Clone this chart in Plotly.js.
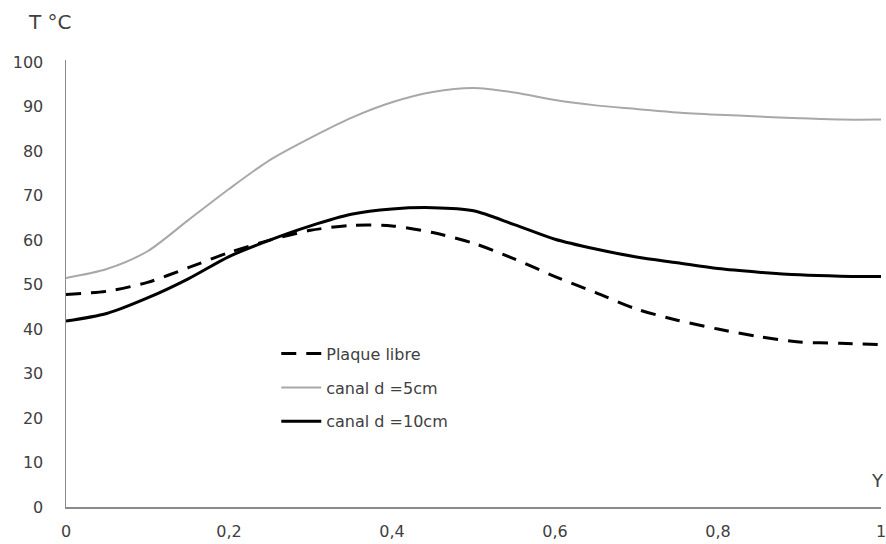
<!DOCTYPE html>
<html>
<head>
<meta charset="utf-8">
<script src="https://cdn.plot.ly/plotly-3.0.1.min.js"></script>
<style>
  html, body { margin: 0; padding: 0; background: #ffffff; }
  #chart { width: 886px; height: 544px; }
</style>
</head>
<body>
<div id="chart"></div>
<script>
// Position along the plate (Y) and temperature profiles (°C)
const positions = [0, 0.05, 0.1, 0.15, 0.2, 0.25, 0.3, 0.35, 0.4, 0.45, 0.5,
                   0.55, 0.6, 0.65, 0.7, 0.75, 0.8, 0.85, 0.9, 0.95, 1.0];

const plaqueLibre = [47.8, 48.5, 50.5, 53.8, 57.2, 60.0, 62.2, 63.3, 63.2, 61.7, 59.3,
                     55.8, 51.8, 48.2, 44.5, 42.0, 40.0, 38.3, 37.1, 36.8, 36.5];

const canal5cm = [51.5, 53.5, 57.5, 64.5, 71.5, 78.0, 83.0, 87.5, 91.0, 93.3, 94.2,
                  93.2, 91.5, 90.3, 89.5, 88.7, 88.2, 87.8, 87.4, 87.1, 87.1];

const canal10cm = [41.8, 43.5, 47.0, 51.3, 56.3, 60.0, 63.2, 65.8, 67.0, 67.3, 66.6,
                   63.5, 60.2, 58.0, 56.2, 54.9, 53.6, 52.8, 52.2, 51.9, 51.8];

const seriesNames = ['Plaque libre', 'canal d =5cm', 'canal d =10cm'];
const xTicks = [0, 0.2, 0.4, 0.6, 0.8, 1];
const yTicks = [0, 10, 20, 30, 40, 50, 60, 70, 80, 90, 100];

const font = 'DejaVu Sans, sans-serif';
const textColor = '#404040';

const traces = [
  { x: positions, y: plaqueLibre, name: seriesNames[0], legendgroup: 'a', mode: 'lines',
    line: { color: '#000000', width: 3, dash: '15px,10px', shape: 'spline', smoothing: 0.8 } },
  { x: positions, y: canal5cm, name: seriesNames[1], legendgroup: 'b', mode: 'lines',
    line: { color: '#a8a8a8', width: 2, shape: 'spline', smoothing: 0.8 } },
  { x: positions, y: canal10cm, name: seriesNames[2], legendgroup: 'c', mode: 'lines',
    line: { color: '#000000', width: 3, shape: 'spline', smoothing: 0.8 } }
];

const layout = {
  width: 886, height: 544,
  margin: { l: 66, r: 5, t: 60, b: 37 },
  paper_bgcolor: '#ffffff', plot_bgcolor: '#ffffff',
  font: { family: font, size: 16, color: textColor },
  separators: ',.',
  showlegend: true,
  legend: {
    x: 0.258, y: 0.381, xanchor: 'left', yanchor: 'top',
    bgcolor: 'rgba(0,0,0,0)', borderwidth: 0,
    font: { family: font, size: 16, color: textColor },
    traceorder: 'grouped', tracegroupgap: 10, itemwidth: 40
  },
  xaxis: {
    range: [0, 1], tickvals: xTicks, tickformat: '.1~f',
    showgrid: false, zeroline: false,
    showline: true, linecolor: '#8a8a8a', linewidth: 1.5,
    ticks: '', ticklabelstandoff: 9, ticklabeloverflow: 'allow',
    tickfont: { family: font, size: 16, color: textColor },
    fixedrange: true
  },
  yaxis: {
    range: [0, 100.5], tickvals: yTicks,
    showgrid: false, zeroline: false,
    showline: true, linecolor: '#8a8a8a', linewidth: 1.5,
    ticks: '', ticklabelstandoff: 18,
    tickfont: { family: font, size: 16, color: textColor },
    fixedrange: true
  },
  annotations: [
    { text: 'T °C', xref: 'paper', yref: 'paper', x: -0.02, y: 1.085,
      xanchor: 'center', yanchor: 'middle', showarrow: false,
      font: { family: font, size: 20, color: textColor } },
    { text: 'Y', xref: 'paper', yref: 'y', x: 1.006, y: 6,
      xanchor: 'right', yanchor: 'middle', showarrow: false,
      font: { family: font, size: 18, color: textColor } }
  ]
};

Plotly.newPlot('chart', traces, layout, { displayModeBar: false, staticPlot: true });
</script>
</body>
</html>
